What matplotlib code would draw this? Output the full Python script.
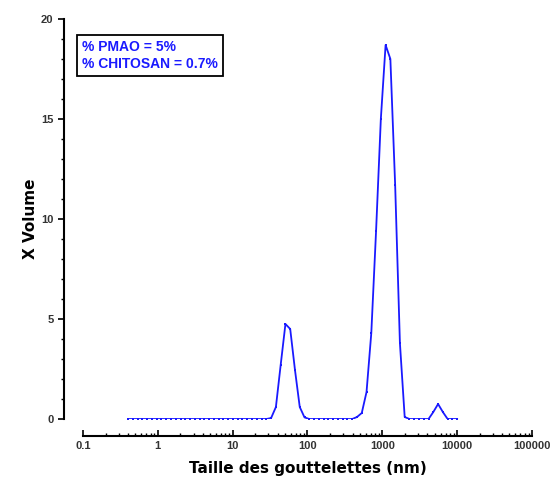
import matplotlib.pyplot as plt
import numpy as np

# Zetasizer size classes (nm)
taille = [0.4000, 0.4632, 0.5365, 0.6213, 0.7195, 0.8332, 0.9649, 1.117, 1.294, 1.499,
          1.736, 2.010, 2.328, 2.696, 3.122, 3.615, 4.187, 4.849, 5.615, 6.503,
          7.531, 8.721, 10.10, 11.70, 13.54, 15.69, 18.17, 21.04, 24.36, 28.21,
          32.67, 37.84, 43.82, 50.75, 58.77, 68.06, 78.82, 91.28, 105.7, 122.4,
          141.8, 164.2, 190.1, 220.2, 255.0, 295.3, 342.0, 396.1, 458.7, 531.2,
          615.1, 712.4, 825.0, 955.4, 1106, 1281, 1484, 1718, 1990, 2305,
          2669, 3091, 3580, 4145, 4801, 5560, 6439, 7456, 8635, 10000]

# % volume
volume = [0, 0, 0, 0, 0, 0, 0, 0, 0, 0,
          0, 0, 0, 0, 0, 0, 0, 0, 0, 0,
          0, 0, 0, 0, 0, 0, 0, 0, 0, 0,
          0.05, 0.6, 2.7, 4.75, 4.5, 2.45, 0.6, 0.08, 0, 0,
          0, 0, 0, 0, 0, 0, 0, 0, 0.1, 0.3,
          1.35, 4.3, 9.4, 15.0, 18.7, 18.0, 11.7, 3.8, 0.1, 0,
          0, 0, 0, 0, 0.35, 0.75, 0.35, 0, 0, 0]

legende = "% PMAO = 5%\n% CHITOSAN = 0.7%"
bleu = '#1a1aff'

fig = plt.figure(figsize=(5.58, 4.87), dpi=100)
ax = fig.add_axes([0.1487, 0.1396, 0.8047, 0.8214])

ax.plot(taille, volume, color=bleu, linewidth=1.3, marker='s', markersize=1.6,
        markeredgewidth=0)

ax.set_xscale('log')
ax.set_xlim(0.1, 100000)
ax.set_ylim(0, 20)

# detached axes, origin style
for s in ['top', 'right']:
    ax.spines[s].set_visible(False)
ax.spines['left'].set_position(('outward', 13.7))
ax.spines['bottom'].set_position(('outward', 12.2))
ax.spines['left'].set_linewidth(1.5)
ax.spines['bottom'].set_linewidth(1.5)

ax.set_yticks([0, 5, 10, 15, 20])
ax.set_yticks(np.arange(0, 21, 1), minor=True)
ax.set_xticks([0.1, 1, 10, 100, 1000, 10000, 100000])
ax.set_xticklabels(['0.1', '1', '10', '100', '1000', '10000', '100000'])

ax.tick_params(axis='y', which='major', direction='out', length=4, width=1.2)
ax.tick_params(axis='y', which='minor', direction='out', length=2.5, width=1)
ax.tick_params(axis='x', which='major', direction='in', length=4, width=1.2)
ax.tick_params(axis='x', which='minor', direction='in', length=2.5, width=1)
for lab in ax.get_xticklabels() + ax.get_yticklabels():
    lab.set_fontfamily('Liberation Sans')
    lab.set_fontweight('bold')
    lab.set_fontsize(8)
    lab.set_color('#333333')

ax.set_xlabel('Taille des gouttelettes (nm)', fontsize=11, fontweight='bold',
              family='DejaVu Sans', labelpad=7)
ax.set_ylabel('X Volume', fontsize=11, fontweight='bold', family='DejaVu Sans',
              labelpad=2)

fig.text(0.147, 0.918, legende, color=bleu, fontsize=10,
         fontweight='bold', family='Liberation Sans', va='top', ha='left',
         linespacing=1.3,
         bbox=dict(boxstyle='square,pad=0.35', facecolor='white',
                   edgecolor='black', linewidth=1.3))

plt.savefig('out.png', dpi=100)
